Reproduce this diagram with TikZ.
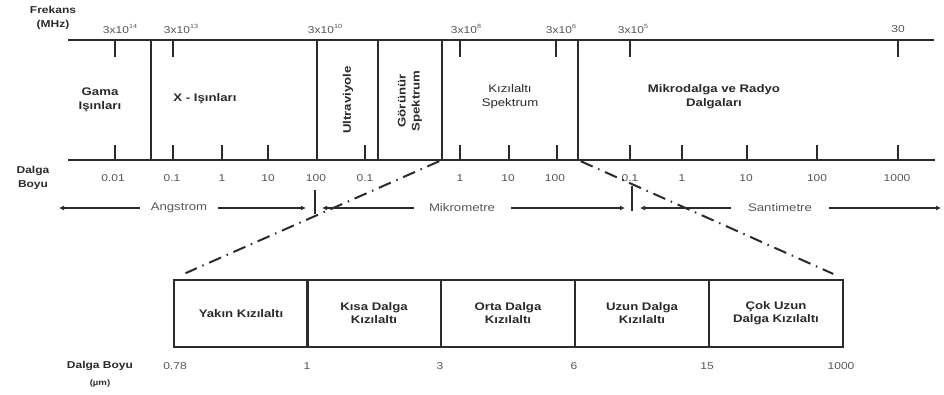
\documentclass[tikz,border=0pt]{standalone}
\usepackage{fontspec}
\setmainfont{Liberation Sans}[FakeStretch=1.2]
\usetikzlibrary{arrows.meta}
\definecolor{ln}{HTML}{2b2b2b}
\definecolor{tx}{HTML}{555555}
\definecolor{bt}{HTML}{2a2a2a}
\newcommand{\spw}[1]{\raisebox{0.55em}{\fontsize{6}{6}\selectfont #1}}
\begin{document}
\begin{tikzpicture}[x=1pt,y=-1pt,
 axis/.style={draw=ln,line width=2.6pt},
 divline/.style={draw=ln,line width=2.4pt},
 tickmark/.style={draw=ln,line width=1.5pt},
 num/.style={text=tx,font=\fontsize{10}{11}\selectfont,inner sep=0pt},
 band/.style={text=bt,font=\bfseries\fontsize{11}{14}\selectfont,align=center,inner sep=0pt},
 bandreg/.style={text=bt,font=\fontsize{11}{14}\selectfont,align=center,inner sep=0pt},
 side/.style={text=bt,font=\bfseries\fontsize{10}{14}\selectfont,align=center,inner sep=0pt},
 unit/.style={text=tx,font=\fontsize{11}{12}\selectfont,inner sep=0pt},
 rng/.style={draw=ln,line width=1.2pt,-{Latex[length=5pt,width=5pt]}},
 zoomline/.style={draw=ln,line width=2pt,dash pattern=on 13pt off 6pt on 1.5pt off 6pt},
 cell/.style={draw=ln,line width=2.4pt,minimum width=134pt,minimum height=67pt,text=bt,font=\bfseries\fontsize{11}{13}\selectfont,align=center,inner sep=0pt},
]
\useasboundingbox (0,0) rectangle (944,394);

% axes
\coordinate (tl) at (68,40); \coordinate (tr) at (934,40);
\coordinate (bl) at (68,160); \coordinate (br) at (935,160);
\draw[axis] (tl) -- (tr);
\draw[axis] (bl) -- (br);

% dividers
\foreach \n/\x in {1/151,2/317,3/378,4/442,5/578}{
  \coordinate (d\n t) at (\x,40);
  \coordinate (d\n b) at (\x,160);
  \draw[divline] (d\n t) -- (d\n b);
}

% top ticks
\foreach \x in {115,173,460,556,630,898}{
  \draw[tickmark] (\x,40) -- (\x,57);
}
% bottom ticks
\foreach \x in {115,173,222,268,365,460,509,557,630,682,747,817,898}{
  \draw[tickmark] (\x,145) -- (\x,160);
}

% left labels
\node[side] (frek) at (53,18) {Frekans\\(MHz)};
\node[side] (dboy) at (33,178) {Dalga\\Boyu};

% frequency labels
\node[num] (f1) at (120,29) {3x10\spw{14}};
\node[num] (f2) at (181,29) {3x10\spw{13}};
\node[num] (f3) at (325,29) {3x10\spw{10}};
\node[num] (f4) at (466,29) {3x10\spw{8}};
\node[num] (f5) at (561,29) {3x10\spw{6}};
\node[num] (f6) at (633,29) {3x10\spw{5}};
\node[num] (f7) at (898,29) {30};

% band labels
\node[band] (gama) at (100,100) {Gama\\Işınları};
\node[band] (xray) at (205,99) {X - Işınları};
\node[band,rotate=90] (uv) at (348,100) {Ultraviyole};
\node[band,rotate=90] (vis) at (410,101) {Görünür\\Spektrum};
\node[bandreg] (ir) at (510,97) {Kızılaltı\\Spektrum};
\node[band] (mw) at (714,97) {Mikrodalga ve Radyo\\Dalgaları};

% wavelength labels
\foreach \x/\t in {113/0.01,172/0.1,222/1,268/10,316/100,365/0.1,460/1,508/10,555/100,630/0.1,682/1,746/10,817/100,897/1000}{
  \node[num] at (\x,178) {\t};
}

% range arrows
\coordinate (a0) at (59,208); \coordinate (a1) at (140,208);
\coordinate (a2) at (218,208); \coordinate (a3) at (306,208);
\node[unit] (ang) at (179,208) {Angstrom};
\draw[rng] (a1) -- (a0);
\draw[rng] (a2) -- (a3);
\coordinate (s1t) at (315,190); \coordinate (s1b) at (315,214);
\draw[tickmark] (s1t) -- (s1b);
\coordinate (m0) at (322,208); \coordinate (m1) at (414,208);
\coordinate (m2) at (511,208); \coordinate (m3) at (625,208);
\node[unit] (mik) at (462,208) {Mikrometre};
\draw[rng] (m1) -- (m0);
\draw[rng] (m2) -- (m3);
\coordinate (s2t) at (632,186); \coordinate (s2b) at (632,211);
\draw[tickmark] (s2t) -- (s2b);
\coordinate (c0) at (640,208); \coordinate (c1) at (731,208);
\coordinate (c2) at (829,208); \coordinate (c3) at (941,208);
\node[unit] (san) at (780,208) {Santimetre};
\draw[rng] (c1) -- (c0);
\draw[rng] (c2) -- (c3);

% lower box
\node[cell] (k1) at (241,313.5) {Yakın Kızılaltı};
\node[cell] (k2) at (374,313.5) {Kısa Dalga\\Kızılaltı};
\node[cell] (k3) at (508,313.5) {Orta Dalga\\Kızılaltı};
\node[cell] (k4) at (642,313.5) {Uzun Dalga\\Kızılaltı};
\node[cell] (k5) at (776,313.5) {Çok Uzun\\Dalga Kızılaltı};

% zoom lines
\draw[zoomline,shorten <=3pt,shorten >=14pt] (d4b) -- (k1.north west);
\draw[zoomline,shorten <=3pt,shorten >=12pt] (d5b) -- (k5.north east);

% lower labels
\node[side] (db2) at (100,366) {Dalga Boyu};
\node[text=bt,font=\bfseries\fontsize{8}{9}\selectfont,inner sep=0pt] (um) at (100,383) {(µm)};
\foreach \x/\t in {175/0.78,307/1,440/3,574/6,707/15,841/1000}{
  \node[num] at (\x,366) {\t};
}
\end{tikzpicture}
\end{document}
